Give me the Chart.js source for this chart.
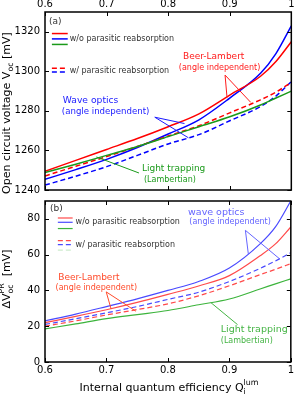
<!DOCTYPE html>
<html><head><meta charset="utf-8">
<script src="https://cdn.jsdelivr.net/npm/chart.js@4"></script>
<style>
html,body{margin:0;padding:0;background:#fff;width:296px;height:394px;overflow:hidden}
.w{position:absolute;left:0}
</style>
</head><body>
<div class="w" style="top:190px;width:296px;height:204px"><canvas id="cb" width="296" height="204"></canvas></div>
<div class="w" style="top:0;width:296px;height:206px"><canvas id="ca" width="296" height="206"></canvas></div>
<script>
// ---------- data ----------
const qi = [0.6, 0.65, 0.7, 0.75, 0.8, 0.85, 0.9, 0.95, 0.975, 1.0];
// (a) open circuit voltage [mV]
const vocBL   = [1249.5, 1255, 1260.5, 1266, 1272, 1278.5, 1288, 1297.5, 1305, 1315];
const vocWO   = [1245.4, 1250.3, 1255.5, 1261.5, 1268.3, 1275.5, 1286.5, 1299, 1309, 1323];
const vocLT   = [1248.8, 1253, 1257.5, 1262, 1267, 1272, 1277, 1283, 1286.5, 1290];
const vocBLpr = [1247.1, 1252, 1256.9, 1262, 1267.3, 1272.5, 1279, 1285.6, 1289.5, 1294.4];
const vocWOpr = [1242.5, 1247, 1251.8, 1257.5, 1263.3, 1268, 1275, 1282.2, 1287.5, 1294.8];
// (b) delta Voc due to photon recycling [mV]
const dBL   = [22, 25.5, 29.2, 33.3, 37.8, 42.5, 48.3, 59.4, 66, 75.5];
const dWO   = [23, 26.8, 31, 35.3, 40, 45, 52.5, 66, 75.5, 90];
const dLT   = [18.5, 21.3, 24.2, 26.5, 28.8, 32, 35.2, 40.8, 43.7, 46.5];
const dBLpr = [20, 23, 26.3, 29.3, 32.5, 37, 42.6, 48.8, 51.8, 55];
const dWOpr = [21, 24.2, 27.5, 31, 35, 39, 45, 52.3, 56.5, 61.1];
// ticks
const xTicks = [0.6, 0.7, 0.8, 0.9, 1];
const yTicksA = [1240, 1260, 1280, 1300, 1320];
const yTicksB = [0, 20, 40, 60, 80];

const FONT = "'DejaVu Sans', sans-serif";
const pts = arr => arr.map((v, i) => ({x: qi[i], y: v}));
function ds(arr, color, dashed, w) {
  return {data: pts(arr), borderColor: color, borderWidth: w, borderDash: dashed ? [5, 3] : [],
          pointRadius: 0, fill: false, cubicInterpolationMode: 'monotone', clip: 0};
}

// rich text: parts = [{t}, {sub}, {sup}, {sub,sup}]
function richWidth(ctx, parts, fs) {
  let w = 0;
  for (const p of parts) {
    if (p.t !== undefined) { ctx.font = fs + 'px ' + FONT; w += ctx.measureText(p.t).width; }
    else { ctx.font = (fs * 0.72) + 'px ' + FONT;
      w += Math.max(p.sub ? ctx.measureText(p.sub).width : 0, p.sup ? ctx.measureText(p.sup).width : 0); }
  }
  return w;
}
function richDraw(ctx, parts, x, y, fs, color, align) {
  ctx.fillStyle = color; ctx.textBaseline = 'middle'; ctx.textAlign = 'left';
  const w = richWidth(ctx, parts, fs);
  let cx = align === 'center' ? x - w / 2 : x;
  for (const p of parts) {
    if (p.t !== undefined) { ctx.font = fs + 'px ' + FONT; ctx.fillText(p.t, cx, y); cx += ctx.measureText(p.t).width; }
    else {
      ctx.font = (fs * 0.72) + 'px ' + FONT;
      let ww = 0;
      if (p.sub) { ctx.fillText(p.sub, cx, y + fs * 0.35); ww = ctx.measureText(p.sub).width; }
      if (p.sup) { ctx.fillText(p.sup, cx, y - fs * 0.42); ww = Math.max(ww, ctx.measureText(p.sup).width); }
      cx += ww;
    }
  }
}

// annotations in data coordinates
const annA = {
  panel: '(a)', panelPos: [0.6064, 1324.9],
  legend: {x0: 0.6112, x1: 0.6369, tx: 0.6402,
    solid: [['#ff0000', 1319.1], ['#0000ff', 1316.4], ['#1a9a1a', 1313.6]], solidText: 1316.4,
    dashed: [['#ff0000', 1301.5], ['#0000ff', 1299.7]], dashedText: 1300.2, lw: 1.5},
  labels: [
    {t: 'Beer-Lambert', x: 0.8739, y: 1307.2, c: '#ff1a1a', fs: 9, al: 'center'},
    {t: '(angle independent)', x: 0.8835, y: 1301.9, c: '#ff1a1a', fs: 8, al: 'center'},
    {t: 'Wave optics', x: 0.6289, y: 1285.0, c: '#1a1aff', fs: 9.2, al: 'left'},
    {t: '(angle independent)', x: 0.6273, y: 1279.4, c: '#1a1aff', fs: 8.6, al: 'left'},
    {t: 'Light trapping', x: 0.7574, y: 1250.6, c: '#1a9a1a', fs: 9, al: 'left'},
    {t: '(Lambertian)', x: 0.7606, y: 1245.1, c: '#1a9a1a', fs: 8, al: 'left'}
  ],
  pointers: [
    {c: '#ff1a1a', from: [0.8924, 1298.1], to: [[0.8956, 1286.8], [0.9341, 1284.3]]},
    {c: '#1a1aff', from: [0.7783, 1276.8], to: [[0.8265, 1273.6], [0.8329, 1266.4]]},
    {c: '#1a9a1a', from: [0.7526, 1248.6], to: [[0.6835, 1256.7]]}
  ]
};
const annB = {
  panel: '(b)', panelPos: [0.608, 85.8],
  legend: {x0: 0.6209, x1: 0.645, tx: 0.6498,
    solid: [['#ff4a4a', 80.5], ['#4a4aff', 78.1], ['#3cb43c', 74.6]], solidText: 78.3,
    dashed: [['#ff4a4a', 67.8], ['#4a4aff', 65.6], ['rgba(60,180,60,0.25)', 62.5]], dashedText: 65.6, lw: 1.2},
  labels: [
    {t: 'Beer-Lambert', x: 0.6715, y: 47.1, c: '#ff4a2a', fs: 9, al: 'center'},
    {t: '(angle independent)', x: 0.6835, y: 41.3, c: '#ff4a2a', fs: 8, al: 'center'},
    {t: 'wave optics', x: 0.8787, y: 83.6, c: '#6464ff', fs: 9.5, al: 'center'},
    {t: '(angle independent)', x: 0.9012, y: 78.1, c: '#6464ff', fs: 8, al: 'center'},
    {t: 'Light trapping', x: 0.886, y: 18, c: '#44b444', fs: 9.5, al: 'left'},
    {t: '(Lambertian)', x: 0.886, y: 11.6, c: '#44b444', fs: 8, al: 'left'}
  ],
  pointers: [
    {c: '#ff4a2a', from: [0.6996, 39.2], to: [[0.7076, 29.6], [0.7478, 28.4]]},
    {c: '#6464ff', from: [0.9261, 73.6], to: [[0.9309, 60.3], [0.9823, 57.5]]},
    {c: '#44b444', from: [0.9133, 20.9], to: [[0.8699, 33.2]]}
  ]
};

function framePlugin(ann, titles) {
  return {
    id: 'frame',
    afterDatasetsDraw(chart) {
      const ctx = chart.ctx, a = chart.chartArea, xs = chart.scales.x, ys = chart.scales.y;
      ctx.save();
      ctx.strokeStyle = '#000'; ctx.lineWidth = 1;
      // inward ticks
      ctx.beginPath();
      xs.ticks.forEach(t => { const p = Math.round(xs.getPixelForValue(t.value)) + 0.5;
        ctx.moveTo(p, a.top); ctx.lineTo(p, a.top + 4); ctx.moveTo(p, a.bottom); ctx.lineTo(p, a.bottom - 4); });
      ys.ticks.forEach(t => { const p = Math.round(ys.getPixelForValue(t.value)) + 0.5;
        ctx.moveTo(a.left, p); ctx.lineTo(a.left + 4, p); ctx.moveTo(a.right, p); ctx.lineTo(a.right - 4, p); });
      ctx.stroke();
      ctx.lineWidth = 1.5;
      ctx.strokeRect(a.left, a.top, a.right - a.left, a.bottom - a.top);
      const X = v => xs.getPixelForValue(v), Y = v => ys.getPixelForValue(v);
      // panel tag
      ctx.font = '9px ' + FONT; ctx.fillStyle = '#333'; ctx.textBaseline = 'middle'; ctx.textAlign = 'left';
      ctx.fillText(ann.panel, X(ann.panelPos[0]), Y(ann.panelPos[1]));
      // legend
      const L = ann.legend;
      ctx.lineWidth = L.lw;
      L.solid.forEach(([c, y]) => { ctx.strokeStyle = c; ctx.setLineDash([]); ctx.beginPath();
        ctx.moveTo(X(L.x0), Y(y)); ctx.lineTo(X(L.x1), Y(y)); ctx.stroke(); });
      L.dashed.forEach(([c, y]) => { ctx.strokeStyle = c; ctx.setLineDash([5, 3]); ctx.beginPath();
        ctx.moveTo(X(L.x0), Y(y)); ctx.lineTo(X(L.x1), Y(y)); ctx.stroke(); });
      ctx.setLineDash([]);
      ctx.font = '8px ' + FONT; ctx.fillStyle = '#333';
      ctx.fillText('w/o parasitic reabsorption', X(L.tx), Y(L.solidText));
      ctx.fillText('w/ parasitic reabsorption', X(L.tx), Y(L.dashedText));
      // labels
      ann.labels.forEach(l => { ctx.font = l.fs + 'px ' + FONT; ctx.fillStyle = l.c; ctx.textAlign = l.al;
        ctx.fillText(l.t, X(l.x), Y(l.y)); });
      ctx.textAlign = 'left';
      // pointers
      ctx.lineWidth = 1;
      ann.pointers.forEach(p => { ctx.strokeStyle = p.c; ctx.beginPath();
        p.to.forEach(q => { ctx.moveTo(X(p.from[0]), Y(p.from[1])); ctx.lineTo(X(q[0]), Y(q[1])); });
        ctx.stroke(); });
      // axis titles
      titles.forEach(tt => {
        ctx.save(); ctx.translate(tt.x, tt.y); if (tt.rot) ctx.rotate(-Math.PI / 2);
        richDraw(ctx, tt.parts, 0, 0, tt.fs, '#000', 'center'); ctx.restore();
      });
      ctx.restore();
    }
  };
}

function makeChart(id, sets, ymin, ymax, yTicks, xPos, xH, xPad, pad, ann, titles) {
  return new Chart(document.getElementById(id), {
    type: 'line',
    data: {datasets: sets},
    options: {
      responsive: false, animation: false, devicePixelRatio: 1,
      layout: {padding: pad},
      plugins: {legend: {display: false}, tooltip: {enabled: false}},
      scales: {
        x: {type: 'linear', position: xPos, min: 0.6, max: 1,
            afterBuildTicks: s => { s.ticks = xTicks.map(v => ({value: v})); },
            afterFit: s => { s.height = xH; },
            grid: {display: false, drawTicks: false}, border: {display: false},
            ticks: {color: '#000', font: {family: FONT, size: 10}, padding: xPad, maxRotation: 0,
                    callback: v => String(v)}},
        y: {type: 'linear', min: ymin, max: ymax,
            afterBuildTicks: s => { s.ticks = yTicks.map(v => ({value: v})); },
            afterFit: s => { s.width = 45; },
            grid: {display: false, drawTicks: false}, border: {display: false},
            ticks: {color: '#000', font: {family: FONT, size: 10}, padding: 5,
                    callback: v => String(v)}}
      }
    },
    plugins: [framePlugin(ann, titles)]
  });
}

makeChart('ca', [
  ds(vocLT, '#1a9a1a', false, 1.5),
  ds(vocBLpr, '#ff0000', true, 1.5),
  ds(vocWOpr, '#0000ff', true, 1.5),
  ds(vocBL, '#ff0000', false, 1.5),
  ds(vocWO, '#0000ff', false, 1.5)
], 1240, 1330, yTicksA, 'top', 12, 1.5, {left: 0, right: 2, top: 0, bottom: 16}, annA,
  [{x: 7, y: 113, rot: true, fs: 11, parts: [{t: 'Open circuit voltage V'}, {sub: 'oc'}, {t: ' [mV]'}]}]);

makeChart('cb', [
  ds(dLT, '#3cb43c', false, 1.2),
  ds(dBLpr, '#ff4a4a', true, 1.2),
  ds(dWOpr, '#4a4aff', true, 1.2),
  ds(dBL, '#ff4a4a', false, 1.2),
  ds(dWO, '#4a4aff', false, 1.2)
], 0, 90, yTicksB, 'bottom', 32, 2, {left: 0, right: 2, top: 2, bottom: 0}, annB,
  [{x: 7, y: 89, rot: true, fs: 11, parts: [{t: 'ΔV'}, {sub: 'oc', sup: 'PR'}, {t: '  [mV]'}]},
   {x: 169, y: 198, rot: false, fs: 11, parts: [{t: 'Internal quantum efficiency Q'}, {sub: 'i', sup: 'lum'}]}]);
</script>
</body></html>
